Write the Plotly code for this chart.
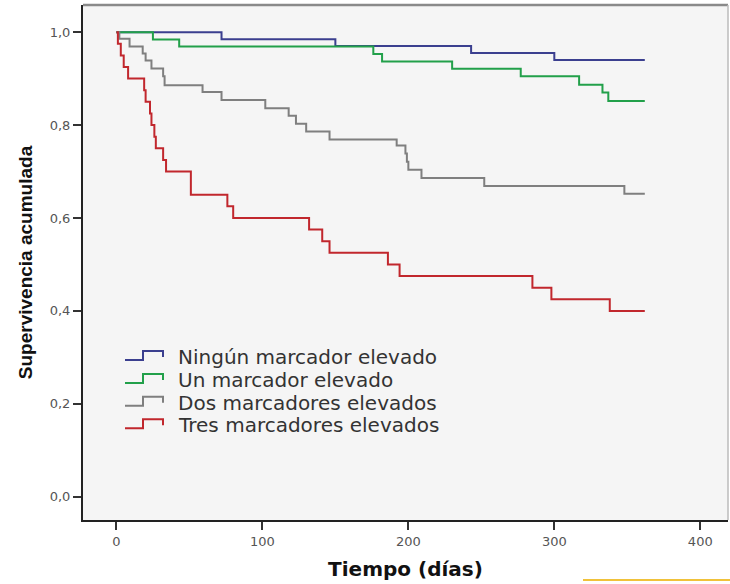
import plotly.graph_objects as go

# Kaplan-Meier step data (days, cumulative survival)
blue_t = [0, 72, 150, 243, 300, 362]
blue_s = [1.0, 0.985, 0.970, 0.955, 0.940, 0.940]

green_t = [0, 25, 43, 176, 182, 230, 277, 317, 333, 337, 362]
green_s = [1.0, 0.984, 0.969, 0.953, 0.937, 0.921, 0.905, 0.887, 0.870, 0.852, 0.852]

gray_t = [0, 2, 9, 18, 20, 24, 32, 33, 59, 72, 102, 118, 123, 130, 146, 192, 198, 199, 200, 209, 252, 348, 362]
gray_s = [1.0, 0.986, 0.969, 0.954, 0.939, 0.922, 0.905, 0.886, 0.871, 0.854, 0.836, 0.820, 0.803, 0.786, 0.769,
          0.756, 0.739, 0.721, 0.704, 0.686, 0.669, 0.652, 0.652]

red_t = [0, 1, 3, 5, 8, 19, 20, 23, 24, 26, 27, 32, 34, 51, 76, 80, 132, 141, 146, 186, 194, 285, 298, 338, 362]
red_s = [1.0, 0.975, 0.95, 0.925, 0.9, 0.875, 0.85, 0.825, 0.8, 0.775, 0.75, 0.725, 0.7, 0.65, 0.625, 0.6,
         0.575, 0.55, 0.525, 0.5, 0.475, 0.45, 0.425, 0.4, 0.4]

names = ["Ningún marcador elevado", "Un marcador elevado", "Dos marcadores elevados", "Tres marcadores elevados"]
colors = ["#3b3f8f", "#22a04a", "#7f7f7f", "#c1272d"]

x_ticks = [0, 100, 200, 300, 400]
y_ticks = [0.0, 0.2, 0.4, 0.6, 0.8, 1.0]

W, H = 730, 584
ML, MR, MT, MB = 83, 2, 5, 64
PW, PH = W - ML - MR, H - MT - MB


def px(x):
    return (x - ML) / PW


def py(y):
    return (H - MB - y) / PH


fig = go.Figure()
for t, s, n, c in zip([blue_t, green_t, gray_t, red_t], [blue_s, green_s, gray_s, red_s], names, colors):
    fig.add_trace(go.Scatter(x=t, y=s, mode="lines", name=n, line=dict(color=c, width=2, shape="hv"),
                             showlegend=False))

# manual legend (step-shaped symbols + text), SPSS-like
shapes = []
annotations = []
row_y = [357, 380, 402.7, 425.3]
for i, (n, c) in enumerate(zip(names, colors)):
    yc = row_y[i]
    path = (f"M {px(125)},{py(yc + 3)} L {px(143)},{py(yc + 3)} L {px(143)},{py(yc - 6)} "
            f"L {px(163)},{py(yc - 6)} L {px(163)},{py(yc)}")
    shapes.append(dict(type="path", xref="paper", yref="paper", path=path, line=dict(color=c, width=2)))
    annotations.append(dict(xref="paper", yref="paper", x=px(176), y=py(yc), xanchor="left", yanchor="middle",
                            text=n, showarrow=False,
                            font=dict(family="DejaVu Sans", size=20, color="#333333")))

shapes += [
    dict(type="line", xref="paper", yref="paper", x0=0, x1=1, y0=1, y1=1, line=dict(color="#8a8a8a", width=2.5)),
    dict(type="line", xref="paper", yref="paper", x0=1, x1=1, y0=0, y1=1, line=dict(color="#bbbbbb", width=1.5)),
    dict(type="line", xref="paper", yref="paper", x0=px(583), x1=px(730), y0=py(580), y1=py(580),
         line=dict(color="#f0c23a", width=2)),
]

fig.update_layout(
    width=W, height=H,
    margin=dict(l=ML, r=MR, t=MT, b=MB),
    paper_bgcolor="white",
    plot_bgcolor="#f5f5f5",
    separators=",.",
    showlegend=False,
    xaxis=dict(range=[-22.9, 419], tickvals=x_ticks, ticks="outside", ticklen=8, tickwidth=1.5,
               tickcolor="#333333", showgrid=False, zeroline=False, showline=True, linecolor="#222222",
               linewidth=2, tickfont=dict(family="DejaVu Sans", size=13, color="#555555"),
               title=dict(text="<b>Tiempo (días)</b>", font=dict(family="DejaVu Sans", size=20, color="#111111"),
                          standoff=14)),
    yaxis=dict(range=[-0.0502, 1.0585], tickvals=y_ticks, tickformat=".1f", ticks="outside", ticklen=8,
               tickwidth=1.5, tickcolor="#333333", showgrid=False, zeroline=False, showline=True,
               linecolor="#222222", linewidth=2, tickfont=dict(family="DejaVu Sans", size=13, color="#555555"),
               title=dict(text="<b>Supervivencia acumulada</b>",
                          font=dict(family="Liberation Sans Narrow, Liberation Sans", size=19, color="#111111"),
                          standoff=12)),
    shapes=shapes,
    annotations=annotations,
)

fig.write_html("out.html")
